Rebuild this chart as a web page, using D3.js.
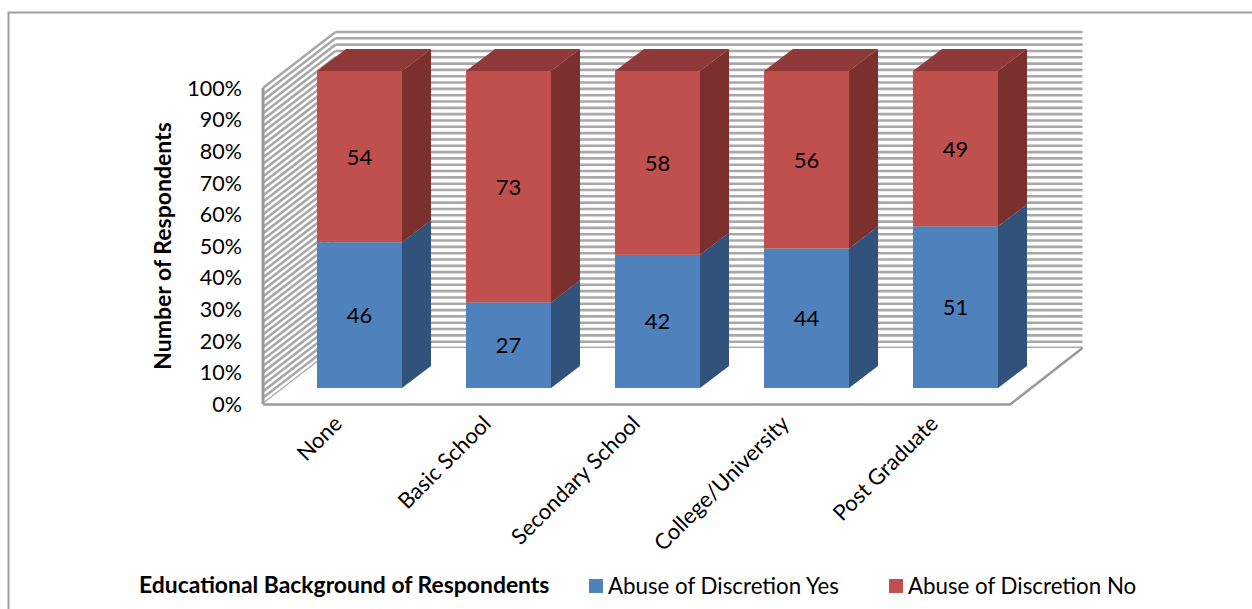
<!DOCTYPE html>
<html>
<head>
<meta charset="utf-8">
<style>
  html, body { margin: 0; padding: 0; background: #fff; }
  svg { display: block; }
  text { font-family: Lato, "Open Sans", sans-serif; fill: #000; }
</style>
<script src="https://cdn.jsdelivr.net/npm/d3@7"></script>
</head>
<body>
<svg id="chart" width="1252" height="609"></svg>
<script>
const categories = ["None", "Basic School", "Secondary School", "College/University", "Post Graduate"];
const abuseYes = [46, 27, 42, 44, 51];
const abuseNo = [54, 73, 58, 56, 49];
const percentTicks = [0, 10, 20, 30, 40, 50, 60, 70, 80, 90, 100];
const gridSteps = d3.range(0, 101, 2);

const seriesInfo = [
  { name: "Abuse of Discretion Yes", values: abuseYes, front: "#4f81bd", side: "#31527b", top: "#3d6594" },
  { name: "Abuse of Discretion No", values: abuseNo, front: "#c0504d", side: "#7c302e", top: "#8f3a38" }
];

const svg = d3.select("#chart");
const wallColor = "#a8a8a8";

// Oblique projection: the wall sits behind the axis plane, bars stand on the floor in between
const wallDepth = { x: 72.5, y: -56 };
const barDepth = { x: 29, y: -22 };
const wallLeft = 263, wallRight = 1010;

const yWall = d3.scaleLinear().domain([0, 100]).range([404, 88]);
const yBar = d3.scaleLinear().domain([0, 100]).range([388, 71]);
const x = d3.scaleBand().domain(categories).range([317, 998]).paddingInner(0.4295);

// Chart frame, open on the right and bottom
svg.append("path")
  .attr("d", "M8.5,609V12.5H1252")
  .attr("fill", "none").attr("stroke", "#a0a0a0").attr("stroke-width", 2);

// Back wall and side wall hatching
const walls = svg.append("g").attr("stroke", wallColor).attr("stroke-width", 2.6).attr("fill", "none");
walls.selectAll("line.back").data(gridSteps).join("line").attr("class", "back")
  .attr("x1", wallLeft + wallDepth.x).attr("x2", wallRight + wallDepth.x)
  .attr("y1", d => yWall(d) + wallDepth.y).attr("y2", d => yWall(d) + wallDepth.y);
walls.selectAll("line.side").data(gridSteps).join("line").attr("class", "side")
  .attr("x1", wallLeft).attr("x2", wallLeft + wallDepth.x)
  .attr("y1", d => yWall(d)).attr("y2", d => yWall(d) + wallDepth.y);

// Floor, painted over the lowest hatching so only its outline remains
svg.append("path")
  .attr("d", `M${wallLeft},${yWall(0)}L${wallLeft + wallDepth.x},${yWall(0) + wallDepth.y}` +
             `H${wallRight + wallDepth.x}L${wallRight},${yWall(0)}Z`)
  .attr("fill", "#fff");
svg.append("path")
  .attr("d", `M${wallLeft},${yWall(0) + 0.5}H${wallRight}L${wallRight + wallDepth.x},${yWall(0) + wallDepth.y}`)
  .attr("fill", "none").attr("stroke", "#9a9a9a").attr("stroke-width", 2.5);
svg.append("line")
  .attr("x1", wallLeft).attr("x2", wallLeft)
  .attr("y1", yWall(100)).attr("y2", yWall(0))
  .attr("stroke", "#9a9a9a").attr("stroke-width", 3);
walls.append("line")
  .attr("x1", wallLeft + wallDepth.x).attr("x2", wallRight + wallDepth.x)
  .attr("y1", yWall(0) + wallDepth.y).attr("y2", yWall(0) + wallDepth.y);

// Stacked prisms
const bw = x.bandwidth();
categories.forEach((cat, i) => {
  const g = svg.append("g");
  const left = x(cat);
  let base = 0;
  seriesInfo.forEach((s, si) => {
    const v = s.values[i];
    const y0 = yBar(base), y1 = yBar(base + v);
    g.append("rect")
      .attr("x", left).attr("y", y1)
      .attr("width", bw).attr("height", y0 - y1)
      .attr("fill", s.front);
    g.append("path")
      .attr("d", `M${left + bw},${y0}V${y1}l${barDepth.x},${barDepth.y}V${y0 + barDepth.y}Z`)
      .attr("fill", s.side);
    if (si === seriesInfo.length - 1) {
      g.append("path")
        .attr("d", `M${left},${y1}H${left + bw}l${barDepth.x},${barDepth.y}H${left + barDepth.x}Z`)
        .attr("fill", s.top);
    }
    g.append("text")
      .attr("x", left + bw / 2).attr("y", (y0 + y1) / 2 + 8)
      .attr("text-anchor", "middle")
      .attr("font-size", 22)
      .text(v);
    base += v;
  });
});

// Percentage axis
const yAxis = d3.axisLeft(yWall).tickValues(percentTicks).tickFormat(d => d + "%").tickSize(0).tickPadding(21);
const yG = svg.append("g").attr("transform", `translate(${wallLeft},0.5)`).call(yAxis);
yG.select(".domain").remove();
yG.selectAll("text").attr("font-size", 21.5).attr("font-family", "Lato, sans-serif").attr("fill", "#000");

// Category axis, labels rotated and ending under each bar
const xAxis = d3.axisBottom(x).tickSize(0).tickPadding(0);
const xG = svg.append("g").attr("transform", "translate(0,404)").call(xAxis);
xG.select(".domain").remove();
xG.selectAll("text")
  .attr("font-size", 22)
  .attr("font-family", "Lato, sans-serif")
  .attr("fill", "#000")
  .attr("text-anchor", "end")
  .attr("dy", 0)
  .attr("transform", "translate(-16,21) rotate(-45)");

// Axis titles
svg.append("text")
  .attr("transform", "translate(171,246) rotate(-90)")
  .attr("text-anchor", "middle")
  .attr("font-size", 23)
  .attr("font-weight", 700)
  .text("Number of Respondents");
svg.append("text")
  .attr("x", 139).attr("y", 593)
  .attr("font-size", 22.9)
  .attr("font-weight", 700)
  .text("Educational Background of Respondents");

// Legend
const legendX = [589, 889];
const legend = svg.selectAll("g.legend").data(seriesInfo).join("g").attr("class", "legend")
  .attr("transform", (d, i) => `translate(${legendX[i]},0)`);
legend.append("rect").attr("x", 0).attr("y", 579).attr("width", 14).attr("height", 14).attr("fill", d => d.front);
legend.append("text").attr("x", 19).attr("y", 594).attr("font-size", 22.3).text(d => d.name);
</script>
</body>
</html>
